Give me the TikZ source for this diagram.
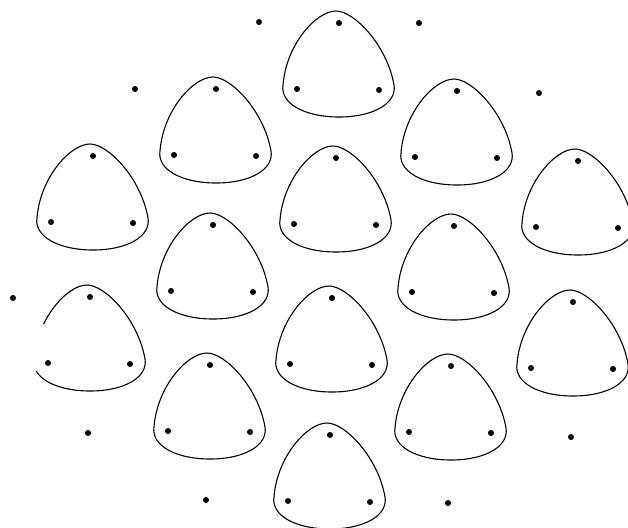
\documentclass[tikz,border=0pt]{standalone}
\begin{document}
\begin{tikzpicture}[x=1pt,y=-1pt,
  outline/.style={line width=1.1pt, black},
  spot/.style={fill=black},
  pick/.pic={
    \draw[outline] (-3,-12)
      .. controls (15,-12) and (48,22) .. (55,62)
      .. controls (58,80) and (35,94) .. (0,94)
      .. controls (-35,94) and (-59,80) .. (-56,62)
      .. controls (-53,22) and (-23,-12) .. (-3,-12) -- cycle;
    \fill[spot] (0,0) circle (3pt);
    \fill[spot] (-42,66) circle (3pt);
    \fill[spot] (40,67) circle (3pt);
  }]
\useasboundingbox (0,0) rectangle (628,527);
\clip (0,0) rectangle (628,527);
% plectrum shapes, placed by their top dot
\pic at (339,23) {pick};
\pic at (216,89) {pick};
\pic at (457,91) {pick};
\pic at (93,156) {pick};
\pic at (336,158) {pick};
\pic at (578,161) {pick};
\pic at (213,225) {pick};
\pic at (454,226) {pick};
\pic at (90,297) {pick};
\pic at (332,298) {pick};
\pic at (573,302) {pick};
\pic at (210,365) {pick};
\pic at (451,366) {pick};
\pic at (330,435) {pick};
% gap in the outline of the left shape
\fill[white] (28,324) rectangle (44,371);
% isolated dots
\foreach \p in {(259,22),(419,23),(135,89),(539,93),(13,298),(88,433),(571,437),(206,500),(448,503)}
  \fill[spot] \p circle (3pt);
\end{tikzpicture}
\end{document}
